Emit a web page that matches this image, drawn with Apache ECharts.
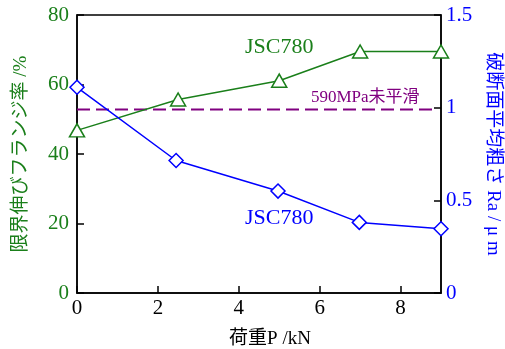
<!DOCTYPE html>
<html><head><meta charset="utf-8">
<script src="https://cdn.jsdelivr.net/npm/echarts@6/dist/echarts.min.js"></script>
<style>html,body{margin:0;padding:0;background:#fff}#c{width:505px;height:349px}</style>
</head><body><div id="c"></div>
<script>
const loadX = [0, 2.5, 5, 7, 9];
const flangeRate = [46.8, 55.7, 61.1, 69.5, 69.5];
const roughX = [0, 2.45, 4.97, 6.98, 9];
const roughRa = [1.11, 0.715, 0.55, 0.381, 0.347];
const refLineX = [0, 8.85];
const refLineY = [52.8, 52.8];
const xTicks = [0, 2, 4, 6, 8];
const leftTicks = [0, 20, 40, 60, 80];
const rightTicks = [0, 0.5, 1, 1.5];

const GREEN = '#1a7f1a', BLUE = '#0000ff', PURPLE = '#800080';
const SERIF = 'Liberation Serif, Noto Sans CJK JP, serif';

const chart = echarts.init(document.getElementById('c'));
chart.setOption({
  animation: false,
  grid: {left: 77, right: 64, top: 15, bottom: 56, show: true, borderColor: '#000', borderWidth: 1.5,
    containLabel: false, outerBoundsMode: 'none'},
  xAxis: {
    type: 'value', min: 0, max: 9, interval: 2,
    name: '荷重P /kN', nameLocation: 'middle', nameGap: 37,
    nameTextStyle: {color: '#000', fontSize: 19, fontFamily: SERIF, padding: [0, 0, 0, 22]},
    axisLine: {lineStyle: {color: '#000', width: 1.5}},
    axisTick: {inside: true, length: 7, lineStyle: {color: '#000', width: 1.5}},
    axisLabel: {color: '#000', fontSize: 21, fontFamily: SERIF, margin: 5, showMaxLabel: false,
      formatter: v => xTicks.includes(v) ? String(v) : ''},
    splitLine: {show: false}
  },
  yAxis: [{
    type: 'value', min: leftTicks[0], max: leftTicks[leftTicks.length-1], interval: 20,
    name: '限界伸びフランジ率 /%', nameLocation: 'middle', nameGap: 46,
    nameTextStyle: {color: GREEN, fontSize: 19, fontFamily: SERIF},
    axisLine: {show: true, lineStyle: {color: '#000', width: 1.5}},
    axisTick: {show: true, inside: true, length: 7, lineStyle: {color: '#000', width: 1.5}},
    axisLabel: {color: GREEN, fontSize: 21, fontFamily: SERIF, margin: 8},
    splitLine: {show: false}
  }, {
    type: 'value', min: rightTicks[0], max: rightTicks[rightTicks.length-1], interval: 0.5,
    position: 'right',
    name: '破断面平均粗さ Ra / μ m', nameLocation: 'middle', nameGap: 42, nameRotate: -90,
    nameTextStyle: {color: BLUE, fontSize: 19, fontFamily: SERIF},
    axisLine: {show: true, lineStyle: {color: '#000', width: 1.5}},
    axisTick: {show: true, inside: true, length: 7, lineStyle: {color: '#000', width: 1.5}},
    axisLabel: {color: BLUE, fontSize: 21, fontFamily: SERIF, margin: 5, formatter: v => String(v)},
    splitLine: {show: false}
  }],
  series: [{
    type: 'line', yAxisIndex: 0,
    data: refLineX.map((x, i) => [x, refLineY[i]]),
    symbol: 'none', lineStyle: {color: PURPLE, width: 1.8, type: [13, 6]}, z: 1
  }, {
    type: 'line', yAxisIndex: 0,
    data: loadX.map((x, i) => [x, flangeRate[i]]),
    symbol: 'triangle', symbolSize: [15, 13],
    lineStyle: {color: GREEN, width: 1.5},
    itemStyle: {color: '#fff', borderColor: GREEN, borderWidth: 1.5}, z: 3
  }, {
    type: 'line', yAxisIndex: 1,
    data: roughX.map((x, i) => [x, roughRa[i]]),
    symbol: 'diamond', symbolSize: [14, 14],
    lineStyle: {color: BLUE, width: 1.5},
    itemStyle: {color: '#fff', borderColor: BLUE, borderWidth: 1.5}, z: 3
  }],
  graphic: [
    {type: 'text', left: 245, top: 36, style: {text: 'JSC780', fill: GREEN, fontSize: 22, fontFamily: SERIF}},
    {type: 'text', left: 245, top: 207, style: {text: 'JSC780', fill: BLUE, fontSize: 22, fontFamily: SERIF}},
    {type: 'text', left: 311, top: 89, style: {text: '590MPa未平滑', fill: PURPLE, fontSize: 17, fontFamily: SERIF}}
  ]
});
</script></body></html>
